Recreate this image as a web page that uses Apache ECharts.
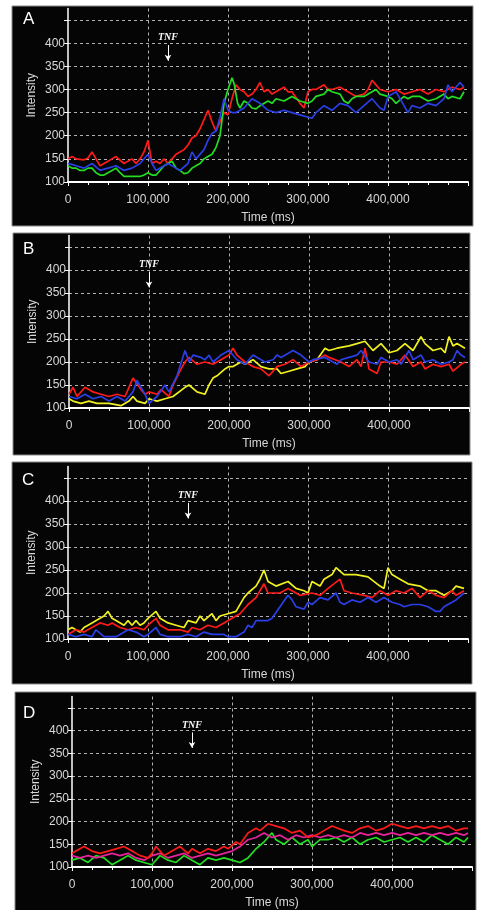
<!DOCTYPE html>
<html><head><meta charset="utf-8">
<script src="https://cdn.jsdelivr.net/npm/echarts@6/dist/echarts.min.js"></script>
<style>html,body{margin:0;padding:0;background:#fff}#c{width:482px;height:910px}</style>
</head><body><div id="c"></div>
<script>
// Times in thousands of ms, values are intensity
const panelLetters = ['A','B','C','D'];
const tnfTimes = [125, 100, 150, 150];
const xTickLabels = ['0','100,000','200,000','300,000','400,000'];

const aRed = [[0,150],[5,155],[10,150],[20,148],[25,152],[30,165],[35,150],[40,135],[50,145],[55,150],[60,155],[70,140],[80,150],[85,140],[90,150],[95,165],[100,190],[105,140],[110,145],[115,140],[120,150],[125,140],[130,150],[135,160],[140,165],[145,170],[150,180],[155,195],[160,200],[165,215],[170,235],[175,255],[180,230],[185,210],[190,230],[195,250],[200,245],[205,280],[210,310],[215,300],[220,295],[225,285],[230,290],[235,300],[240,315],[245,295],[250,300],[255,290],[260,295],[270,305],[275,295],[280,295],[290,270],[295,260],[300,295],[305,300],[310,300],[320,310],[325,300],[330,300],[340,305],[350,295],[360,285],[370,290],[375,300],[380,320],[385,310],[390,300],[400,295],[410,300],[420,290],[430,295],[440,300],[450,290],[460,300],[470,295],[480,305],[490,300],[495,305]];
const aGreen = [[0,135],[5,130],[10,130],[15,125],[20,125],[25,130],[30,130],[35,120],[40,115],[45,115],[50,120],[55,125],[60,130],[65,120],[70,112],[80,112],[90,112],[95,115],[100,120],[105,115],[110,115],[115,125],[120,135],[125,140],[130,145],[135,130],[140,125],[145,118],[150,120],[155,130],[160,135],[165,140],[170,150],[175,155],[180,160],[185,175],[190,200],[193,240],[195,270],[200,300],[205,325],[208,310],[212,270],[215,260],[220,275],[225,270],[230,260],[235,258],[240,265],[250,275],[255,270],[260,280],[270,275],[280,285],[285,280],[290,275],[300,270],[305,275],[310,285],[320,290],[325,300],[330,295],[340,290],[345,275],[350,270],[355,280],[360,285],[370,285],[380,295],[385,300],[390,290],[400,285],[405,280],[410,270],[420,285],[425,280],[430,285],[440,285],[450,275],[460,280],[470,290],[475,280],[480,285],[490,280],[495,295]];
const aBlue = [[0,140],[5,138],[10,135],[20,130],[30,140],[40,125],[50,130],[60,135],[70,125],[80,130],[90,140],[100,160],[105,140],[110,125],[120,135],[125,140],[135,130],[140,125],[150,140],[155,165],[160,150],[170,170],[175,190],[180,205],[185,210],[190,240],[195,280],[200,255],[205,250],[210,250],[220,260],[230,280],[235,275],[240,270],[250,255],[260,250],[270,255],[280,250],[290,245],[300,240],[305,238],[310,250],[320,265],[330,255],[340,270],[350,265],[360,250],[370,265],[380,280],[390,260],[395,255],[400,285],[410,295],[420,265],[425,250],[430,265],[440,260],[450,270],[460,265],[470,280],[475,310],[480,295],[490,315],[495,305]];

const bRed = [[0,130],[5,145],[10,125],[20,145],[30,135],[40,130],[50,125],[60,130],[70,125],[75,145],[80,165],[90,140],[95,130],[100,135],[110,130],[115,140],[125,125],[130,150],[140,185],[145,200],[150,210],[160,195],[170,200],[180,195],[190,205],[200,215],[205,230],[210,215],[220,200],[230,190],[240,185],[250,170],[260,190],[270,195],[280,205],[290,190],[300,200],[310,205],[320,215],[325,210],[340,200],[350,190],[360,205],[365,190],[370,230],[375,185],[385,175],[390,200],[400,200],[410,195],[420,215],[430,190],[440,200],[445,185],[455,195],[465,190],[475,195],[480,180],[490,195],[495,200]];
const bBlue = [[0,125],[10,120],[20,130],[30,120],[40,125],[50,115],[60,125],[70,115],[80,135],[85,160],[95,130],[100,110],[110,125],[120,150],[125,135],[135,170],[145,225],[150,200],[155,215],[165,210],[170,205],[175,215],[180,200],[190,215],[200,225],[210,205],[220,195],[230,215],[240,205],[245,200],[255,205],[260,215],[265,210],[280,225],[290,215],[300,200],[305,205],[320,210],[335,195],[340,205],[350,210],[360,215],[365,225],[375,200],[385,195],[390,210],[400,200],[410,205],[415,195],[425,225],[430,205],[440,215],[445,200],[455,205],[465,195],[475,200],[480,205],[485,225],[490,215],[495,210]];
const bYellow = [[0,120],[5,115],[15,110],[25,115],[35,110],[50,110],[65,105],[75,115],[80,125],[85,115],[95,110],[100,120],[110,115],[120,120],[130,125],[145,145],[150,150],[160,135],[170,130],[175,150],[180,165],[185,170],[195,185],[200,190],[205,190],[215,200],[220,195],[230,205],[240,190],[250,185],[260,185],[265,175],[275,180],[285,185],[295,190],[300,200],[310,205],[320,230],[325,225],[335,230],[350,235],[360,240],[370,245],[380,225],[390,240],[400,220],[410,225],[420,240],[430,225],[440,255],[445,240],[455,225],[465,230],[470,220],[475,255],[480,235],[485,240],[495,230]];

const cYellow = [[0,120],[5,125],[15,115],[20,125],[30,135],[40,145],[45,150],[50,160],[55,145],[60,140],[70,130],[75,140],[80,130],[85,140],[90,130],[95,135],[100,145],[110,160],[115,145],[125,135],[135,130],[145,125],[150,140],[160,135],[165,150],[170,140],[180,155],[185,140],[190,150],[200,155],[210,160],[220,190],[225,200],[235,215],[240,230],[245,250],[250,225],[260,215],[275,225],[285,210],[295,205],[300,200],[305,225],[315,215],[320,230],[330,240],[335,255],[345,240],[360,240],[375,235],[390,215],[395,210],[400,255],[405,240],[415,230],[425,220],[440,215],[450,205],[460,205],[470,195],[480,205],[485,215],[495,210]];
const cRed = [[0,110],[10,120],[20,115],[30,125],[40,135],[50,130],[55,135],[65,125],[75,120],[85,125],[95,120],[100,130],[110,145],[115,130],[125,120],[140,120],[150,115],[155,125],[165,120],[175,130],[185,125],[195,135],[205,145],[215,155],[225,175],[235,190],[245,220],[250,200],[265,200],[275,210],[290,195],[305,200],[315,195],[325,210],[340,230],[345,205],[355,200],[370,195],[380,190],[390,205],[400,195],[410,205],[420,200],[430,210],[440,190],[450,205],[460,195],[470,190],[480,205],[485,195],[495,205]];
const cBlue = [[0,110],[10,105],[20,110],[30,105],[35,120],[45,105],[60,105],[65,110],[75,120],[85,115],[95,105],[100,110],[110,125],[115,110],[125,105],[140,105],[150,110],[160,105],[170,115],[180,110],[195,110],[200,105],[210,105],[220,115],[225,130],[230,125],[235,140],[250,140],[255,145],[265,170],[275,195],[280,185],[285,170],[295,165],[300,180],[305,175],[315,190],[325,185],[335,200],[340,180],[345,175],[355,185],[365,180],[375,190],[385,180],[395,190],[405,180],[415,175],[420,170],[430,175],[440,175],[450,170],[460,160],[465,160],[470,170],[480,180],[485,185],[495,200]];

const dRed = [[0,130],[5,135],[15,145],[25,135],[35,130],[45,135],[55,140],[65,145],[75,135],[85,125],[95,120],[100,130],[105,145],[115,125],[125,135],[135,145],[145,130],[150,140],[160,130],[170,140],[180,135],[190,145],[195,140],[205,155],[210,150],[220,175],[230,185],[235,180],[245,195],[255,190],[265,185],[275,175],[285,180],[295,165],[305,170],[315,180],[325,190],[340,180],[350,175],[360,185],[370,190],[380,180],[390,185],[400,195],[410,190],[420,185],[430,190],[440,185],[450,190],[460,185],[470,190],[480,180],[490,185],[495,185]];
const dMagenta = [[0,125],[10,120],[20,125],[30,120],[40,125],[50,130],[60,125],[70,130],[80,120],[90,115],[100,125],[110,130],[120,120],[130,125],[140,130],[150,120],[160,125],[170,130],[180,125],[190,130],[200,135],[210,145],[220,160],[230,165],[240,175],[250,165],[260,170],[270,160],[280,170],[290,165],[300,170],[310,165],[320,170],[330,165],[340,170],[350,165],[360,175],[370,170],[380,175],[390,170],[400,175],[410,170],[420,175],[430,170],[440,175],[450,170],[460,175],[470,170],[480,175],[490,170],[495,175]];
const dGreen = [[0,115],[10,120],[20,110],[30,125],[40,120],[50,105],[60,115],[70,125],[80,115],[90,110],[100,105],[110,125],[120,115],[130,110],[140,125],[150,115],[160,105],[170,120],[180,115],[190,120],[200,115],[210,110],[220,120],[230,140],[240,155],[250,175],[255,160],[265,150],[275,165],[285,150],[295,160],[300,145],[310,160],[320,160],[330,165],[340,155],[350,165],[360,150],[370,160],[380,165],[390,155],[400,160],[410,165],[420,155],[430,165],[440,155],[450,170],[460,160],[470,150],[480,165],[490,155],[495,165]];

const panelSeries = [
  [['red', aRed], ['green', aGreen], ['blue', aBlue]],
  [['yellow', bYellow], ['red', bRed], ['blue', bBlue]],
  [['yellow', cYellow], ['red', cRed], ['blue', cBlue]],
  [['green', dGreen], ['magenta', dMagenta], ['red', dRed]]
];
const colors = {red:'#ff1a1a', green:'#22dd22', blue:'#2a3fe6', yellow:'#f0f020', magenta:'#e8229a'};

// Layout (pixel geometry only)
const grids = [
  {left:68, top:8.5, width:400, height:173.5},
  {left:69, top:235.5, width:400, height:172.5},
  {left:68, top:466.5, width:400, height:172.5},
  {left:72, top:696.5, width:400, height:171.5}
];
const boxes = [[12,6,461,220],[13,233,457,222],[12,462,460,222],[15,692,461,220]];
const letterPos = [[23,11],[23,241],[22,472],[23,705]];

const labelColor = '#d8d8d8';
const font = 'Liberation Sans, Arial, sans-serif';
const xAxes = [], yAxes = [], series = [], titles = [], graphics = [];
grids.forEach((g, i) => {
  xAxes.push({
    type:'value', gridIndex:i, min:0, max:500000, interval:100000,
    axisLine:{show:true, onZero:false, lineStyle:{color:'#ffffff', width:2}},
    axisTick:{show:true, length:4, lineStyle:{color:'#ffffff'}},
    minorTick:{show:true, splitNumber:4, length:3, lineStyle:{color:'#ffffff'}},
    axisLabel:{color:labelColor, fontSize:12, fontFamily:font, margin:12, showMaxLabel:false,
      formatter:(v)=>{const k=Math.round(v/100000); return k < xTickLabels.length ? xTickLabels[k] : '';}},
    splitLine:{show:true, showMinLine:false, showMaxLine:false, lineStyle:{color:'#b0b0b0', type:[3,3], width:1}},
    name:'Time (ms)', nameLocation:'middle', nameGap:30, nameMoveOverlap:false,
    nameTextStyle:{color:labelColor, fontSize:12, fontFamily:font}
  });
  yAxes.push({
    type:'value', gridIndex:i, min:100, max:475, interval:50,
    axisLine:{show:true, lineStyle:{color:'#ffffff', width:1.5}},
    axisTick:{show:true, length:4, lineStyle:{color:'#ffffff'}},
    axisLabel:{color:labelColor, fontSize:12, fontFamily:font, margin:3, showMaxLabel:false,
      formatter:(v)=> v <= 400 ? String(v) : ''},
    splitLine:{show:true, showMinLine:false, showMaxLine:false, lineStyle:{color:'#b0b0b0', type:[3,3], width:1}},
    name:'Intensity', nameLocation:'middle', nameGap:30, nameMoveOverlap:false,
    nameTextStyle:{color:labelColor, fontSize:12, fontFamily:font}
  });
  titles.push({text:panelLetters[i], left:letterPos[i][0], top:letterPos[i][1], padding:0,
    textStyle:{color:'#ffffff', fontSize:17, fontWeight:'normal', fontFamily:font}});
  const b = boxes[i];
  graphics.push({type:'rect', z:-100, shape:{x:b[0], y:b[1], width:b[2], height:b[3]},
    style:{fill:'#050505', stroke:'#8a8a8a', lineWidth:1}});
  panelSeries[i].forEach(([c, arr], j) => {
    const s = {
      type:'line', xAxisIndex:i, yAxisIndex:i, showSymbol:false, symbol:'none',
      data: arr.map(([t,v]) => [t*1000, v]),
      lineStyle:{color:colors[c], width:1.7}, itemStyle:{color:colors[c]},
      animation:false, silent:true, z:3+j
    };
    if (j === 0) {
      const t = tnfTimes[i]*1000;
      s.markLine = {silent:true, symbol:['none','arrow'], symbolSize:[5,6], animation:false,
        lineStyle:{color:'#ffffff', width:1, type:'solid'}, label:{show:false},
        data:[[{coord:[t,396]},{coord:[t,362]}]]};
      s.markPoint = {silent:true, symbol:'circle', symbolSize:0, animation:false,
        label:{show:true, formatter:'TNF', color:'#ffffff', fontSize:10, fontStyle:'italic', fontWeight:'bold',
          fontFamily:'Liberation Serif, DejaVu Serif, serif'},
        data:[{coord:[t,412]}]};
    }
    series.push(s);
  });
});

const chart = echarts.init(document.getElementById('c'), null, {renderer:'canvas'});
chart.setOption({
  backgroundColor:'#ffffff', animation:false,
  title: titles,
  graphic: {elements: graphics},
  grid: grids.map(g => Object.assign({containLabel:false}, g)),
  xAxis: xAxes, yAxis: yAxes, series: series
});
</script></body></html>
